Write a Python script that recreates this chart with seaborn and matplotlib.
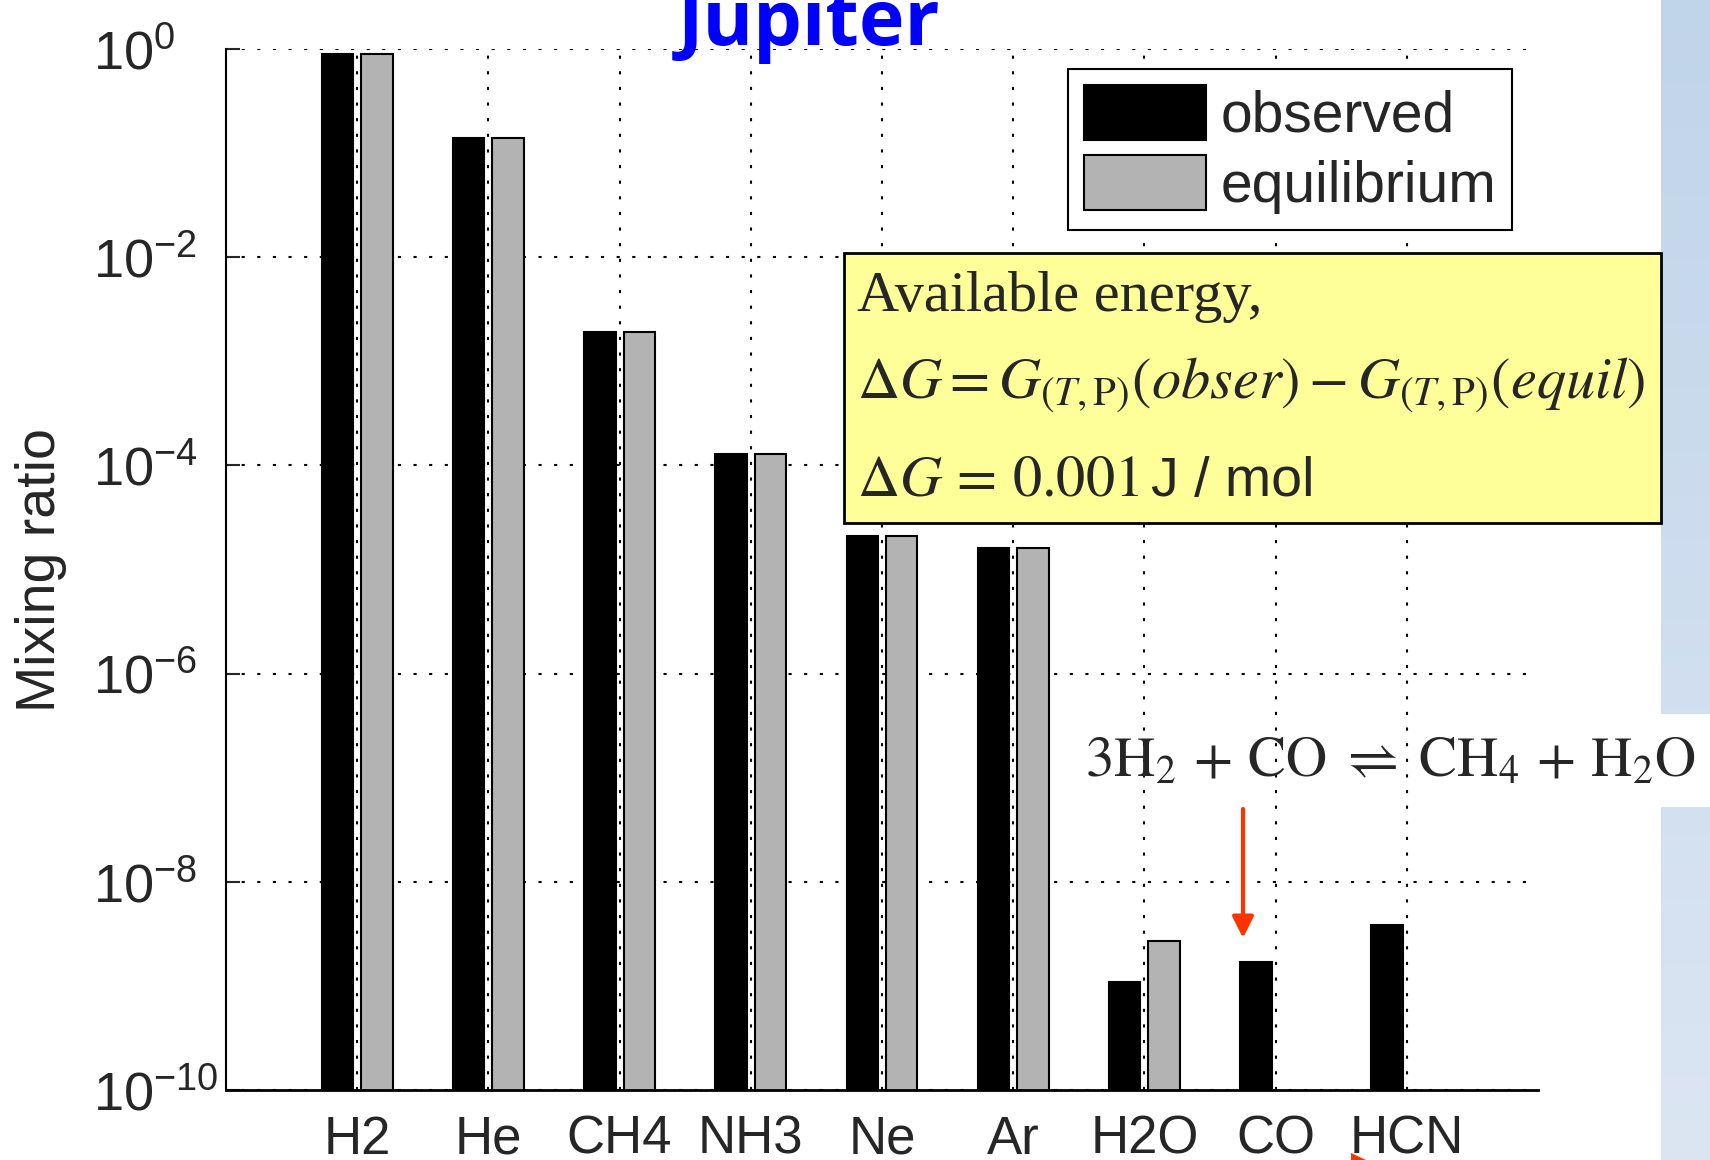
import numpy as np
import pandas as pd
import matplotlib
matplotlib.use("Agg")
import matplotlib.pyplot as plt
import matplotlib.ticker as mticker
from matplotlib.patches import Rectangle, Polygon
import seaborn as sns

# ---- data ----
species = ["H2", "He", "CH4", "NH3", "Ne", "Ar", "H2O", "CO", "HCN"]
observed = [0.90, 0.14, 1.9e-3, 1.3e-4, 2.1e-5, 1.6e-5, 1.1e-9, 1.7e-9, 3.85e-9]
equilibrium = [0.90, 0.14, 1.9e-3, 1.3e-4, 2.1e-5, 1.6e-5, 2.7e-9, np.nan, np.nan]
series_names = ["observed", "equilibrium"]
ytick_vals = [1e-10, 1e-8, 1e-6, 1e-4, 1e-2, 1e0]

rows = []
for s, o, e in zip(species, observed, equilibrium):
    rows.append((s, series_names[0], o))
    if not np.isnan(e):
        rows.append((s, series_names[1], e))
df = pd.DataFrame(rows, columns=["species", "kind", "value"])

sns.set_style("white")
plt.rcParams["font.family"] = ["Liberation Sans", "DejaVu Sans"]
plt.rcParams["mathtext.fontset"] = "stix"

W, H = 1710, 1160
fig = plt.figure(figsize=(W / 100, H / 100), dpi=100)
ax = fig.add_axes([226 / W, 1 - 1090 / H, (1538 - 226) / W, (1090 - 49) / H])

sns.barplot(data=df, x="species", y="value", hue="kind", order=species,
            hue_order=series_names,
            palette={"observed": "black", "equilibrium": "#B3B3B3"},
            edgecolor="black", linewidth=1.5, width=0.6, gap=0.2,
            errorbar=None, ax=ax)
ax.set_yscale("log")
ax.set_ylim(1e-10, 1)
ax.set_xlim(-1, 9)
ax.yaxis.set_major_locator(mticker.FixedLocator(ytick_vals))
ax.yaxis.set_major_formatter(mticker.LogFormatterSciNotation())
ax.yaxis.set_minor_locator(mticker.NullLocator())

ax.set_axisbelow(True)
ax.grid(True, which="major", color="black", linestyle=(0, (1.5, 6)), linewidth=1.5)

for sp in ["top", "right"]:
    ax.spines[sp].set_visible(False)
ax.spines["left"].set_linewidth(1.5)
ax.spines["bottom"].set_linewidth(2)
ax.spines["left"].set_color("black")
ax.spines["bottom"].set_color("black")

ax.tick_params(axis="y", direction="in", length=10, width=1.5, labelsize=39, pad=96, left=True)
ax.tick_params(axis="x", length=0, labelsize=38, pad=18)
for lab in ax.get_yticklabels():
    lab.set_horizontalalignment("left")
ax.set_xlabel("")
ax.set_ylabel("Mixing ratio", fontsize=40)
ax.yaxis.set_label_coords((67 - 226) / 1312, 0.5)

leg = ax.legend(loc="upper left", bbox_to_anchor=(1068 / W, 1 - 69 / H),
                bbox_transform=fig.transFigure, fontsize=41, frameon=True,
                fancybox=False, framealpha=1, edgecolor="black",
                handlelength=2.15, handleheight=1.1, handletextpad=0.25,
                borderpad=0.28, labelspacing=0.2, borderaxespad=0)
leg.get_frame().set_linewidth(1.5)
leg.set_title(None)

# title
fig.text(809 / W, 1 - 45 / H, "Jupiter", ha="center", va="baseline",
         color="#0000FF", fontsize=55.5, fontweight="bold", family="Open Sans")

# right side background strip
grad = np.zeros((H, 1, 3))
top_c = np.array([0xC0, 0xD4, 0xEA]) / 255
bot_c = np.array([0xDC, 0xE6, 0xF3]) / 255
for i in range(H):
    t = i / (H - 1)
    grad[i, 0] = top_c * (1 - t) + bot_c * t
grad[714:807, 0] = 1.0
sax = fig.add_axes([1661 / W, 0, 49 / W, 1])
sax.imshow(grad, aspect="auto", interpolation="bilinear")
sax.set_axis_off()

# yellow box
fig.add_artist(Rectangle((844 / W, 1 - 523 / H), (1661 - 844) / W, (523 - 253) / H,
                         facecolor="#FFFF99", edgecolor="black", linewidth=2,
                         transform=fig.transFigure, zorder=5))
fig.text(857 / W, 1 - 311 / H, "Available energy,", family="Liberation Serif",
         fontsize=42, va="baseline", zorder=6)
fig.text(857 / W, 1 - 398 / H,
         r"$\Delta G = G_{(T,\mathrm{P})}(obser) - G_{(T,\mathrm{P})}(equil)$",
         fontsize=42, va="baseline", zorder=6)
t3 = fig.text(857 / W, 1 - 496 / H, r"$\Delta G\,=\,0.001$",
              fontsize=42, va="baseline", zorder=6)
fig.canvas.draw()
bb = t3.get_window_extent()
fig.text((bb.x1 + 12) / W, 1 - 496 / H, "J / mol", family="Liberation Sans",
         fontsize=40, va="baseline", zorder=6)

# reaction
fig.text(1085 / W, 1 - 777 / H,
         r"$3\mathrm{H}_2\,+\,\mathrm{CO}\;\rightleftharpoons\;\mathrm{CH}_4\,+\,\mathrm{H}_2\mathrm{O}$",
         fontsize=41, va="baseline", zorder=6)

# red arrow
ax.annotate("", xy=(1243, H - 938), xytext=(1243, H - 809),
            xycoords="figure pixels", textcoords="figure pixels",
            arrowprops=dict(arrowstyle="-|>", color="#FF3300", lw=3,
                            mutation_scale=32, shrinkA=0, shrinkB=0),
            annotation_clip=False)
fig.add_artist(Polygon([(1351 / W, 1 - 1153 / H), (1366 / W, 1 - 1160 / H), (1351 / W, 1 - 1160 / H)],
                       closed=True, facecolor="#FF3300", edgecolor="none",
                       transform=fig.transFigure, zorder=6))

fig.savefig("out.png", dpi=100)
